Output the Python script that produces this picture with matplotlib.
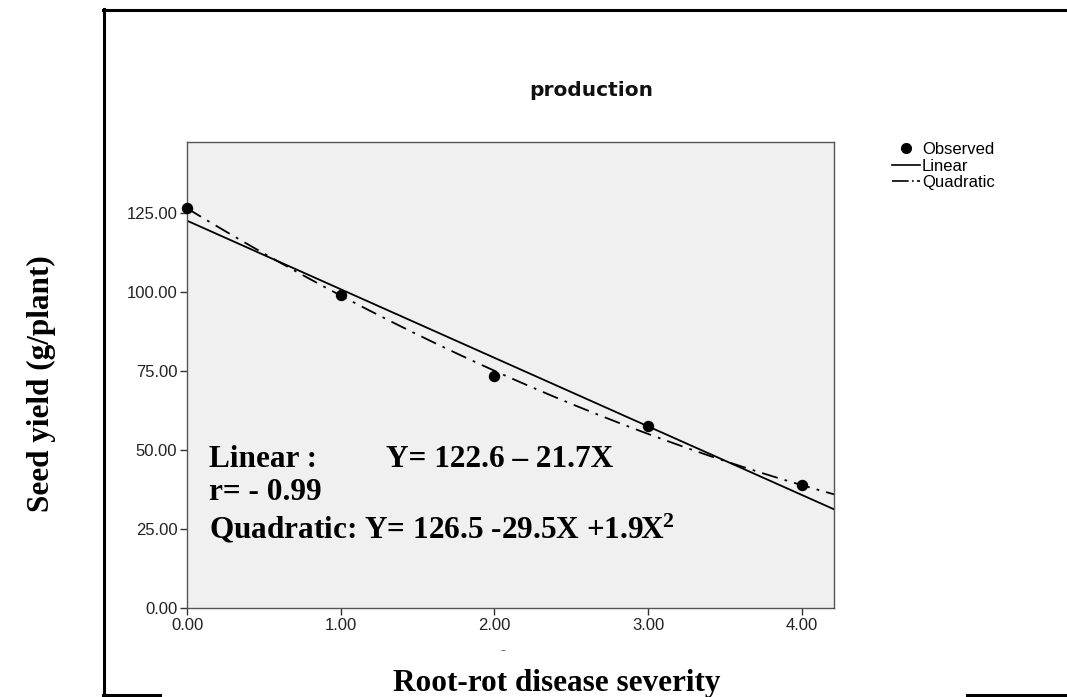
import numpy as np
import matplotlib
matplotlib.use("Agg")
import matplotlib.pyplot as plt
from matplotlib.lines import Line2D

plt.rcParams["mathtext.fontset"] = "custom"
plt.rcParams["mathtext.rm"] = "Liberation Serif:bold"
plt.rcParams["mathtext.bf"] = "Liberation Serif:bold"
plt.rcParams["mathtext.it"] = "Liberation Serif:bold"

# Data
severity = [0.0, 1.0, 2.0, 3.0, 4.0]
seed_yield = [126.5, 99.0, 73.5, 57.5, 39.0]
linear_coef = [122.6, -21.7]          # a + b X
quad_coef = [126.5, -29.5, 1.9]       # a + b X + c X^2
x_ticks = [0.0, 1.0, 2.0, 3.0, 4.0]
y_ticks = [0.0, 25.0, 50.0, 75.0, 100.0, 125.0]

W, H = 1067, 697
fx = lambda px: px / W
fy = lambda py: 1 - py / H

fig = plt.figure(figsize=(10.67, 6.97), dpi=100)
fig.patch.set_facecolor("white")
ax = fig.add_axes([fx(187), fy(608), (834 - 187) / W, (608 - 142) / H])
ax.set_facecolor("#f0f0f0")

xs = np.linspace(0, 4.21, 200)
lin = linear_coef[0] + linear_coef[1] * xs
quad = quad_coef[0] + quad_coef[1] * xs + quad_coef[2] * xs ** 2

ax.plot(xs, lin, color="black", lw=1.3, zorder=2)
ax.plot(xs, quad, color="black", lw=1.3, linestyle=(0, (9, 4, 1.5, 4)),
        zorder=2)
ax.plot(severity, seed_yield, "o", color="black", markersize=7.2,
        zorder=3, clip_on=False)

ax.set_xlim(0, 4.21)
ax.set_ylim(0, 147.5)
ax.set_xticks(x_ticks)
ax.set_xticklabels([f"{v:.2f}" for v in x_ticks], fontsize=12,
                   family="Liberation Sans", color="#222222")
ax.set_yticks(y_ticks)
ax.set_yticklabels([f"{v:.2f}" for v in y_ticks], fontsize=12,
                   family="Liberation Sans", color="#222222")
ax.tick_params(direction="out", length=5, width=1, color="#333333", pad=2)
for s in ax.spines.values():
    s.set_color("#555555")
    s.set_linewidth(1.0)

# Title
fig.text(fx(591), fy(91), "production", ha="center", va="center",
         fontsize=14.5, fontweight="bold", family="DejaVu Sans",
         color="#111111")

# Legend
handles = [
    Line2D([], [], marker="o", color="black", linestyle="none", markersize=7),
    Line2D([], [], color="black", lw=1.2),
    Line2D([], [], color="black", lw=1.2, linestyle=(0, (10, 2, 1, 2))),
]
fig.legend(handles, ["Observed", "Linear", "Quadratic"],
           loc="upper left", bbox_to_anchor=(fx(892), fy(142)),
           frameon=False, prop={"family": "Liberation Sans", "size": 12},
           handlelength=1.65, handletextpad=0.15, labelspacing=0.1,
           borderpad=0, borderaxespad=0)

# Annotations
tkw = dict(fontsize=22.5, fontweight="bold", family="Liberation Serif",
           color="black", va="baseline", ha="left")
fig.text(fx(209), fy(467), "Linear :", **tkw)
fig.text(fx(386), fy(467), "Y= 122.6 \u2013 21.7X", **tkw)
fig.text(fx(209), fy(500), "r= - 0.99", **tkw)
fig.text(fx(209), fy(538),
         r"Quadratic: Y= 126.5 -29.5X +1.9X$^{\mathbf{2}}$", **tkw)

# Axis labels
fig.text(fx(557), fy(691), "Root-rot disease severity",
         ha="center", va="baseline", fontsize=22.5, fontweight="bold",
         family="Liberation Serif")
fig.text(fx(41), fy(384), "Seed yield (g/plant)", rotation=90,
         ha="center", va="center", fontsize=22.5, fontweight="bold",
         family="Liberation Serif")
fig.text(fx(503), fy(650), "\u2013", ha="center", va="center",
         fontsize=7, color="#555555", family="DejaVu Sans")

# Outer frame
lw = 2.2
fig.add_artist(Line2D([fx(103), 1.0], [fy(9.5), fy(9.5)],
                      color="black", lw=lw, transform=fig.transFigure))
fig.add_artist(Line2D([fx(104), fx(104)], [fy(8.5), fy(697)],
                      color="black", lw=lw, transform=fig.transFigure))
fig.add_artist(Line2D([fx(103), fx(160)], [fy(695), fy(695)],
                      color="black", lw=lw, transform=fig.transFigure))
fig.add_artist(Line2D([fx(967), 1.0], [fy(695), fy(695)],
                      color="black", lw=lw, transform=fig.transFigure))

fig.savefig("out.png", dpi=100)
